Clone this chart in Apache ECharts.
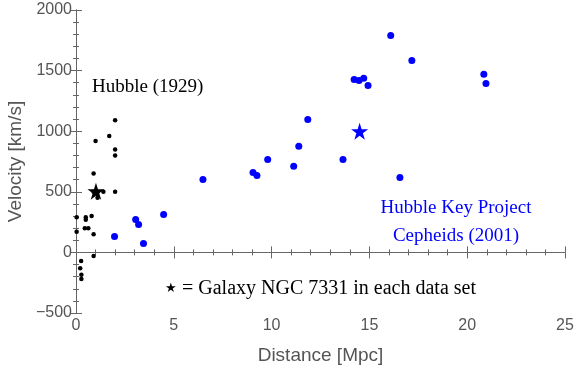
<!DOCTYPE html>
<html>
<head>
<meta charset="utf-8">
<script src="https://cdn.jsdelivr.net/npm/echarts@6/dist/echarts.min.js"></script>
<style>html,body{margin:0;padding:0;background:#fff}#c{width:576px;height:369px}</style>
</head>
<body>
<div id="c"></div>
<script>
// Hubble (1929) data: distance [Mpc], velocity [km/s]
const hubbleDist = [0.032,0.034,0.214,0.263,0.275,0.275,0.45,0.5,0.5,0.63,0.8,0.9,0.9,0.9,0.9,1.0,1.1,1.1,1.4,1.7,2.0,2.0,2.0,2.0];
const hubbleVel  = [170,290,-130,-70,-185,-220,200,290,270,200,300,-30,650,150,500,920,450,500,500,960,500,850,800,1090];
// Hubble Key Project Cepheids (2001)
const hkpDist = [1.97,3.05,3.2,3.45,4.48,6.49,9.05,9.25,9.8,11.13,11.39,11.85,13.65,14.22,14.47,14.71,14.93,16.09,16.56,17.17,20.85,20.96];
const hkpVel  = [132,272,231,74,313,602,660,635,767,710,875,1097,767,1427,1419,1436,1378,1790,619,1584,1469,1394];
// NGC 7331 in each data set
const ngcHubble = [1.02, 505];
const ngcHKP = [14.5, 1000];
const xTicks = [0,5,10,15,20,25];
const yTicks = [-500,0,500,1000,1500,2000];

const star = 'path://M50,0 L61.2,34.5 L97.6,34.5 L68.2,55.9 L79.4,90.5 L50,69.1 L20.6,90.5 L31.8,55.9 L2.4,34.5 L38.8,34.5 Z';
const axisColor = '#666';
const labelColor = '#555';
const sans = 'Liberation Sans, Arial, sans-serif';
const serif = 'Liberation Serif, Times New Roman, serif';

const zip = (a,b) => a.map((v,i)=>[v,b[i]]);

const chart = echarts.init(document.getElementById('c'), null, {renderer:'canvas'});
const baseAxis = {
  axisLine:{show:true, lineStyle:{color:axisColor, width:1}},
  axisTick:{show:true, inside:true, length:6, lineStyle:{color:axisColor}},
  minorTick:{show:true, splitNumber:5, length:3, lineStyle:{color:axisColor}},
  splitLine:{show:false},
  minorSplitLine:{show:false}
};
chart.setOption({
  animation:false,
  grid:{left:76, right:11, top:10, bottom:56, containLabel:false, outerBoundsMode:'none'},
  xAxis:[
    Object.assign({}, baseAxis, {
      type:'value', min:xTicks[0], max:xTicks[xTicks.length-1], interval:5, position:'bottom',
      axisLabel:{color:labelColor, fontFamily:sans, fontSize:16, margin:5},
      name:'Distance [Mpc]', nameLocation:'middle', nameGap:33,
      nameTextStyle:{color:labelColor, fontFamily:sans, fontSize:19}
    }),
    Object.assign({}, baseAxis, {
      type:'value', min:xTicks[0], max:xTicks[xTicks.length-1], interval:5, position:'top',
      axisLabel:{show:false}
    })
  ],
  yAxis:[
    Object.assign({}, baseAxis, {
      type:'value', min:yTicks[0], max:yTicks[yTicks.length-1], interval:500, position:'left',
      axisLabel:{color:labelColor, fontFamily:sans, fontSize:16, margin:4,
        formatter:v=>String(v).replace('-','\u2212')},
      name:'Velocity [km/s]', nameLocation:'middle', nameGap:51,
      nameTextStyle:{color:labelColor, fontFamily:sans, fontSize:19}
    }),
    Object.assign({}, baseAxis, {
      type:'value', min:yTicks[0], max:yTicks[yTicks.length-1], interval:500, position:'right',
      axisLabel:{show:false}
    })
  ],
  series:[
    {type:'scatter', data:zip(hubbleDist,hubbleVel), symbolSize:4.5, itemStyle:{color:'#000', opacity:1}, z:2},
    {type:'scatter', data:zip(hkpDist,hkpVel), symbolSize:7, itemStyle:{color:'#0000ff', opacity:1}, z:3},
    {type:'scatter', data:[ngcHubble], symbol:star, symbolSize:17, itemStyle:{color:'#000', opacity:1}, z:4},
    {type:'scatter', data:[ngcHKP], symbol:star, symbolSize:17, itemStyle:{color:'#0000ff', opacity:1}, z:4}
  ],
  graphic:[
    {type:'text', x:92, y:87, style:{text:'Hubble (1929)', fill:'#000', font:'19px '+serif, textAlign:'left', textVerticalAlign:'middle'}},
    {type:'text', x:456, y:208, style:{text:'Hubble Key Project', fill:'#0000ff', font:'19px '+serif, textAlign:'center', textVerticalAlign:'middle'}},
    {type:'text', x:456, y:236, style:{text:'Cepheids (2001)', fill:'#0000ff', font:'19px '+serif, textAlign:'center', textVerticalAlign:'middle'}},
    {type:'text', x:165, y:289, style:{text:'\u2605', fill:'#000', font:'13px DejaVu Sans, sans-serif', textAlign:'left', textVerticalAlign:'middle'}},
    {type:'text', x:182, y:289, style:{text:'= Galaxy NGC 7331 in each data set', fill:'#000', font:'20px '+serif, textAlign:'left', textVerticalAlign:'middle'}}
  ]
});
</script>
</body>
</html>
